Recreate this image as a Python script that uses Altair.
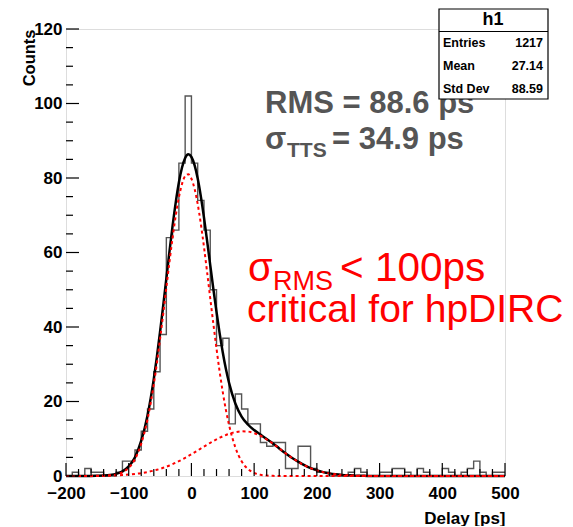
import altair as alt
import pandas as pd

# ---------------- data ----------------
bin_start = -200
bin_width = 10
counts = [0, 1, 0, 2, 1, 1, 0, 0, 1, 4,
          4, 7, 12, 18, 28, 38, 64, 66, 84, 102,
          84, 74, 66, 50, 35, 37, 14, 22, 18, 14,
          14, 9, 8, 9, 9, 2, 2, 8, 8, 2,
          1, 1, 0, 0, 0, 1, 2, 1, 0, 0,
          1, 1, 2, 2, 1, 0, 2, 1, 0, 0,
          2, 1, 0, 1, 2, 4, 1, 0, 1, 1]

curve_x = [-200, -190, -180, -170, -160, -150, -140, -130, -120, -110, -100, -90, -80, -70,
           -60, -55, -50, -45, -40, -35, -30, -25, -20, -15, -10, -5, 0, 5, 10, 15, 20, 25,
           30, 35, 40, 45, 50, 55, 60, 70, 80, 90, 100, 110, 120, 130, 140, 150, 160, 170,
           180, 190, 200, 210, 220, 230, 240, 250, 260, 270, 280, 290, 300, 350, 400, 450, 500]
narrow_gauss = [0, 0, 0, 0, 0, 0.02, 0.05, 0.15, 0.4, 0.98, 2.2, 4.5, 8.7, 15.2,
                24.6, 30.4, 36.8, 43.5, 50.5, 57.5, 64.0, 69.9, 74.8, 78.4, 80.5, 81.0, 79.8, 77.1, 73.0, 67.7, 61.5, 54.7,
                47.7, 40.8, 34.2, 28.0, 22.5, 17.7, 13.7, 7.7, 3.96, 1.9, 0.83, 0.33, 0.12, 0.04, 0.01, 0, 0, 0,
                0, 0, 0, 0, 0, 0, 0, 0, 0, 0, 0, 0, 0, 0, 0, 0, 0]
wide_gauss = [0, 0, 0.01, 0.02, 0.03, 0.045, 0.07, 0.11, 0.17, 0.26, 0.38, 0.55, 0.77, 1.07,
              1.45, 1.67, 1.92, 2.2, 2.5, 2.83, 3.19, 3.57, 3.98, 4.41, 4.87, 5.35, 5.84, 6.35, 6.86, 7.38, 7.9, 8.41,
              8.91, 9.39, 9.85, 10.27, 10.67, 11.0, 11.3, 11.76, 12.0, 11.93, 11.5, 10.8, 9.8, 8.7, 7.4, 6.1, 4.9, 3.85,
              2.9, 2.1, 1.5, 1.04, 0.7, 0.45, 0.28, 0.17, 0.1, 0.05, 0.03, 0.01, 0, 0, 0, 0, 0]
total_fit = [0, 0, 0.01, 0.02, 0.03, 0.06, 0.12, 0.26, 0.57, 1.24, 2.58, 5.05, 9.47, 16.27,
             26.05, 32.07, 38.72, 45.7, 53.0, 60.33, 67.19, 73.47, 78.78, 82.81, 85.37, 86.35, 85.64, 83.45, 79.86, 75.08, 69.4, 63.11,
             56.61, 50.19, 44.05, 38.27, 33.17, 28.7, 25.0, 19.46, 15.96, 13.83, 12.33, 11.13, 9.92, 8.74, 7.41, 6.1, 4.9, 3.85,
             2.9, 2.1, 1.5, 1.04, 0.7, 0.45, 0.28, 0.17, 0.1, 0.05, 0.03, 0.01, 0, 0, 0, 0, 0]

x_major = [-200, -100, 0, 100, 200, 300, 400, 500]
x_minor = [v for v in range(-180, 500, 20) if v % 100 != 0]
y_major = [0, 20, 40, 60, 80, 100, 120]
y_minor = [v for v in range(5, 120, 5) if v % 20 != 0]

stats_labels = ["Entries", "Mean", "Std Dev"]
stats_values = ["1217", "27.14", "88.59"]

# ---------------- tables (long form, one x / y field for all layers) ----------------
edges = [bin_start + i * bin_width for i in range(len(counts))] + [bin_start + len(counts) * bin_width]
hist_df = pd.DataFrame({"x": edges, "y": counts + [counts[-1]]})
narrow_df = pd.DataFrame({"x": curve_x, "y": narrow_gauss})
wide_df = pd.DataFrame({"x": curve_x, "y": wide_gauss})
total_df = pd.DataFrame({"x": curve_x, "y": total_fit})

W, H = 439, 447
FONT = "Liberation Sans"

xs = alt.Scale(domain=[-200, 500], nice=False, zero=False)
ys = alt.Scale(domain=[0, 120], nice=False, zero=True)

AX = alt.Axis(
    values=x_major, ticks=False, domain=False, grid=False, labelFont=FONT,
    labelFontWeight="bold", labelFontSize=17, labelColor="black", labelPadding=9,
    title="Delay [ps]", titleFont=FONT, titleFontWeight="bold", titleFontSize=17,
    titleColor="black", titleAnchor="end", titleAlign="right", titleX=W, titleY=47,
    titleBaseline="alphabetic", labelFlush=False)
AY = alt.Axis(
    values=y_major, ticks=False, domain=False, grid=False, labelFont=FONT,
    labelFontWeight="bold", labelFontSize=17, labelColor="black", labelPadding=4,
    title="Counts", titleFont=FONT, titleFontWeight="bold", titleFontSize=16.5,
    titleColor="black", titleAngle=-90, titleAlign="right", titleBaseline="middle",
    titleX=-37, titleY=0, labelFlush=False)

X = alt.X("x:Q", scale=xs, axis=AX)
Y = alt.Y("y:Q", scale=ys, axis=AY)

hist = alt.Chart(hist_df).mark_line(interpolate="step-after", color="#555555",
                                    strokeWidth=1.4).encode(x=X, y=Y)
black = alt.Chart(total_df).mark_line(color="black", strokeWidth=2.5,
                                      interpolate="monotone").encode(x=X, y=Y)
red1 = alt.Chart(narrow_df).mark_line(color="#ff0000", strokeWidth=2, strokeDash=[3, 3],
                                      interpolate="monotone").encode(x=X, y=Y)
red2 = alt.Chart(wide_df).mark_line(color="#ff0000", strokeWidth=2, strokeDash=[3, 3],
                                    interpolate="monotone").encode(x=X, y=Y)

# inward ticks (ROOT style)
def xticks(vals, length):
    return alt.Chart(pd.DataFrame({"x": vals})).mark_rule(color="black", strokeWidth=1.2).encode(
        x=X, y=alt.value(H), y2=alt.value(H - length))

def yticks(vals, length):
    return alt.Chart(pd.DataFrame({"y": vals})).mark_rule(color="black", strokeWidth=1.2).encode(
        y=Y, x=alt.value(0), x2=alt.value(length))

ticks = [xticks(x_major, 13), xticks(x_minor, 7), yticks(y_major, 13), yticks(y_minor, 7)]

# stats box
one = pd.DataFrame({"a": [0]})
box = alt.Chart(one).mark_rect(fill="white", stroke="black", strokeWidth=1.2).encode(
    x=alt.value(373), x2=alt.value(482), y=alt.value(-20), y2=alt.value(70))
sep = alt.Chart(one).mark_rule(color="black", strokeWidth=1.2).encode(
    x=alt.value(373), x2=alt.value(482), y=alt.value(2.5))
h1 = alt.Chart(one).mark_text(text="h1", font=FONT, fontWeight="bold", fontSize=18,
                              align="center", baseline="middle", color="black").encode(
    x=alt.value(427), y=alt.value(-9))

def stat_text(s, x, y, align):
    return alt.Chart(one).mark_text(text=s, font=FONT, fontWeight="bold", fontSize=12.5, align=align,
                                    baseline="middle", color="black").encode(
        x=alt.value(x), y=alt.value(y))

row_y = [14, 37, 60]
stats = []
for i in range(3):
    stats.append(stat_text(stats_labels[i], 377, row_y[i], "left"))
    stats.append(stat_text(stats_values[i], 477, row_y[i], "right"))

# annotations
def txt(s, x, y, size, color, weight="normal"):
    return alt.Chart(one).mark_text(text=s, font=FONT, fontSize=size, fontWeight=weight, color=color,
                                    align="left", baseline="alphabetic").encode(
        x=alt.value(x), y=alt.value(y))

GRAY = "#555555"
ann = [txt("RMS = 88.6 ps", 199, 84, 31, GRAY, "bold"),
       txt("σ", 199, 120, 31, GRAY, "bold"),
       txt("TTS", 221, 128, 21, GRAY, "bold"),
       txt("= 34.9 ps", 266, 120, 31, GRAY, "bold"),
       txt("σ", 182, 252, 40, "#ff0000"),
       txt("RMS", 207, 261, 27, "#ff0000"),
       txt("< 100ps", 274, 252, 40.5, "#ff0000"),
       txt("critical for hpDIRC", 181, 293, 39, "#ff0000")]

chart = alt.layer(hist, black, red1, red2, *ticks, *ann, box, sep, h1, *stats).properties(
    width=W, height=H,
    autosize=alt.AutoSizeParams(type="none"),
    padding={"left": 58, "top": 21, "right": 60, "bottom": 50},
).configure_view(stroke="black", strokeWidth=1.5).configure(background="white")

chart.save("out.html", embed_options={"renderer": "svg", "actions": False})
